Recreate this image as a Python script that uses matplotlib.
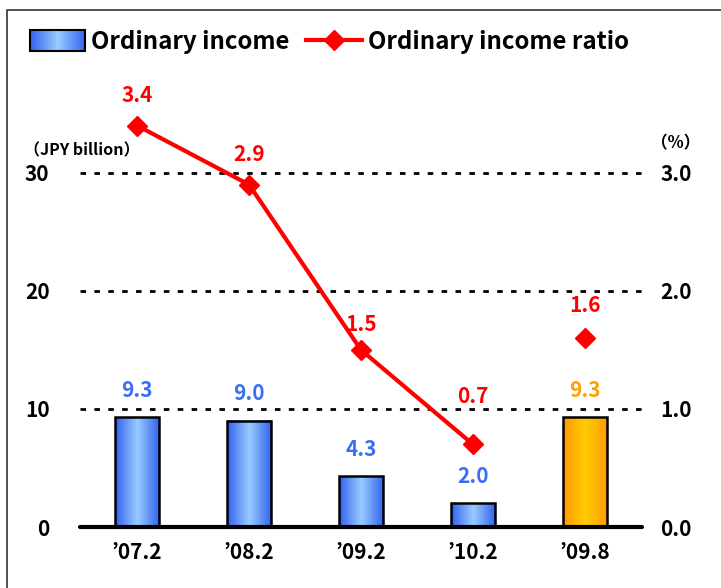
import numpy as np
import matplotlib
matplotlib.use("Agg")
import matplotlib.pyplot as plt
from matplotlib.patches import Rectangle
from matplotlib.lines import Line2D
from matplotlib.legend_handler import HandlerBase
from matplotlib.image import BboxImage
from matplotlib.transforms import Bbox, TransformedBbox
from matplotlib.colors import LinearSegmentedColormap

plt.rcParams['font.family'] = ['Noto Sans CJK JP', 'DejaVu Sans']
plt.rcParams['font.weight'] = 'bold'

categories = ["’07.2", "’08.2", "’09.2", "’10.2", "’09.8"]
income = [9.3, 9.0, 4.3, 2.0, 9.3]
ratio_connected = [3.4, 2.9, 1.5, 0.7]
ratio_forecast = [1.6]
left_ticks = [0, 10, 20, 30]
right_ticks = [0.0, 1.0, 2.0, 3.0]

# label offsets (points) for ratio labels
ratio_label_offsets = [14, 14, 11, 27, 16]

blue_cmap = LinearSegmentedColormap.from_list("b", ["#3060F0", "#99CCFF", "#3060F0"])
orange_cmap = LinearSegmentedColormap.from_list("o", ["#FF9900", "#FFCC00", "#FF9900"])
grad = np.linspace(0, 1, 256).reshape(1, -1)

W, H = 721, 588
fig = plt.figure(figsize=(W/100, H/100), dpi=100)
ax = fig.add_axes([80/W, 1-527/H, (642-80)/W, (527-102)/H])
ax2 = ax.twinx()

x = np.arange(len(categories))
bw = 0.4
ax.set_xlim(-0.51, len(categories)-0.49)
ax.set_ylim(0, 36)
ax2.set_ylim(0, 3.6)

for i, v in enumerate(income):
    cm = orange_cmap if i == len(income)-1 else blue_cmap
    ax.imshow(grad, cmap=cm, extent=(x[i]-bw/2, x[i]+bw/2, 0, v), aspect='auto',
              interpolation='bicubic', zorder=2)
    ax.bar(x[i], v, width=bw, facecolor='none', edgecolor='black', linewidth=1.8, zorder=3)
    col = '#FFA000' if i == len(income)-1 else '#3A6EF5'
    ax.annotate(f"{v:.1f}", (x[i], v), xytext=(0, 12), textcoords='offset points',
                ha='center', va='bottom', color=col, fontsize=15, fontweight='bold')
ax.set_aspect('auto')

for t in left_ticks[1:]:
    ax.axhline(t, color='black', linestyle=(0, (2, 3)), linewidth=2, zorder=1)

ax.set_yticks(left_ticks)
ax.set_yticklabels([str(t) for t in left_ticks])
ax2.set_yticks(right_ticks)
ax2.set_yticklabels([f"{t:.1f}" for t in right_ticks])
ax.set_xticks(x)
ax.set_xticklabels(categories)
ax.tick_params(axis='y', length=0, pad=22, labelsize=15)
ax2.tick_params(axis='y', length=0, pad=13, labelsize=15)
ax.tick_params(axis='x', length=0, pad=11, labelsize=15)
for a in (ax, ax2):
    for s in a.spines.values():
        s.set_visible(False)
    a.patch.set_visible(False)
ax.spines['bottom'].set_visible(True)
ax.spines['bottom'].set_linewidth(3)
ax.spines['bottom'].set_capstyle('round')
ax.spines['bottom'].set_zorder(5)

xl = x[:len(ratio_connected)]
ax2.plot(xl, ratio_connected, color='#FF0000', linewidth=3, marker='D', markersize=10,
         zorder=6, clip_on=False)
xf = x[len(ratio_connected):]
ax2.plot(xf, ratio_forecast, color='#FF0000', linestyle='none', marker='D', markersize=10,
         zorder=6, clip_on=False)
pts = list(zip(xl, ratio_connected)) + list(zip(xf, ratio_forecast))
for (xi, v), off in zip(pts, ratio_label_offsets):
    ax2.annotate(f"{v:.1f}", (xi, v), xytext=(0, off), textcoords='offset points',
                 ha='center', va='bottom', color='#FF0000', fontsize=15, fontweight='bold',
                 annotation_clip=False)

fig.text(24/W, 1-150/H, "（JPY billion）", fontsize=11.5, fontweight='bold', va='center', ha='left')
fig.text(676/W, 1-143/H, "（%）", fontsize=12, fontweight='bold', va='center', ha='center')

class GradHandler(HandlerBase):
    def create_artists(self, legend, orig_handle, xdescent, ydescent, width, height, fontsize, trans):
        bb = Bbox.from_bounds(-xdescent, -ydescent, width, height)
        img = BboxImage(TransformedBbox(bb, trans), cmap=blue_cmap, interpolation='bicubic')
        img.set_data(grad)
        rect = Rectangle((-xdescent, -ydescent), width, height, facecolor='none',
                         edgecolor='black', linewidth=1.5, transform=trans)
        return [img, rect]

bar_handle = Rectangle((0, 0), 1, 1)
line_handle = Line2D([], [], color='#FF0000', linewidth=3, marker='D', markersize=10)
fig.legend([bar_handle, line_handle], ["Ordinary income", "Ordinary income ratio"],
           handler_map={Rectangle: GradHandler()},
           loc='center left', bbox_to_anchor=(30/W, 1-42/H), ncol=2, frameon=False,
           fontsize=17.3, handlelength=2.3, handleheight=0.95, handletextpad=0.25,
           columnspacing=0.7, borderpad=0, borderaxespad=0)

fig.add_artist(Line2D([7/W, 7/W, 1.0], [0, 1-10/H, 1-10/H], transform=fig.transFigure,
                      color='#333333', linewidth=1.2))

fig.savefig("out.png", dpi=100)
